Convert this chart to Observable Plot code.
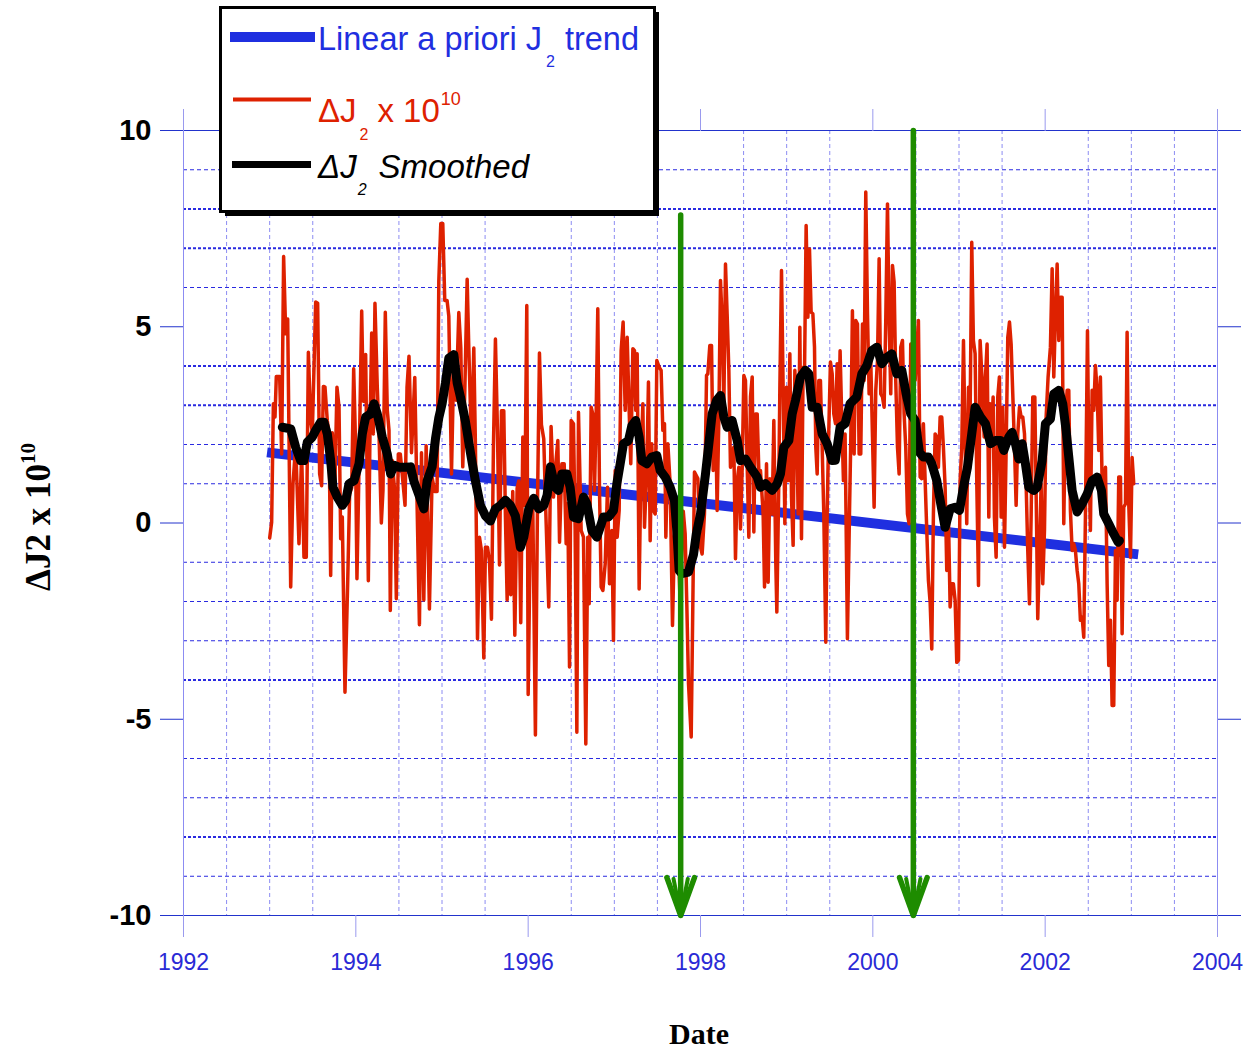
<!DOCTYPE html>
<html>
<head>
<meta charset="utf-8">
<script src="https://cdn.jsdelivr.net/npm/d3@7"></script>
<script src="https://cdn.jsdelivr.net/npm/@observablehq/plot@0.6"></script>
<style>
  body { margin: 0; background: #fff; }
  #wrap { position: relative; width: 1247px; height: 1050px; }
  #chart svg { display: block; }
  #legend { position: absolute; left: 0; top: 0; }
</style>
</head>
<body>
<div id="wrap">
  <div id="chart"></div>
  <svg id="legend" width="700" height="230" font-family="'Liberation Sans', Arial, sans-serif">
    <rect x="225" y="12" width="434" height="204" fill="#000"></rect>
    <rect x="220.5" y="7.5" width="434" height="204" fill="#fff" stroke="#000" stroke-width="3"></rect>
    <line x1="230" x2="315" y1="37" y2="37" stroke="#1f2fe0" stroke-width="10"></line>
    <line x1="233" x2="311" y1="99.5" y2="99.5" stroke="#de2100" stroke-width="4"></line>
    <line x1="232" x2="311" y1="164.5" y2="164.5" stroke="#000" stroke-width="7"></line>
    <text x="318" y="50" font-size="32.5" fill="#1f2fe0">Linear a priori J<tspan font-size="16" dx="4" dy="17">2</tspan><tspan dx="10" dy="-17">trend</tspan></text>
    <text x="318" y="122" font-size="33" fill="#de2100">ΔJ<tspan font-size="16" dx="3" dy="18">2</tspan><tspan dx="9" dy="-18">x 10</tspan><tspan font-size="18" dx="1" dy="-17">10</tspan></text>
    <text x="318" y="178" font-size="33" font-style="italic" fill="#000">ΔJ<tspan font-size="16" dx="1" dy="17">2</tspan><tspan dx="12" dy="-17">Smoothed</tspan></text>
  </svg>
</div>
<script>
// ---------- data ----------
const xDomain = [1992, 2004];
const yDomain = [-10, 10];
const xTicks = [1992, 1994, 1996, 1998, 2000, 2002, 2004];
const yTicks = [-10, -5, 0, 5, 10];
const thinGridY = [9, 6, 2, 1, -1, -2, -3, -6, -7, -9];
const boldGridY = [8, 7, 4, 3, -4, -8];
const halfYearGrid = [1992.5, 1993, 1993.5, 1994.5, 1995, 1995.5, 1996.5, 1997, 1997.5,
  1998.5, 1999, 1999.5, 2000.5, 2001, 2001.5, 2002.5, 2003, 2003.5];

// Linear a priori J2 trend (start, end)
const trend = [[1992.97, 1.80], [2003.08, -0.80]];

// Green event arrows: date, top value
const eventDates = [1997.77, 2000.47];
const eventTops = [7.85, 10];

// ΔJ2 x 10^10 (date, value)
const deltaJ2 = [
[1993.000,-0.38],[1993.023,0.02],[1993.043,3.04],[1993.062,2.70],[1993.077,3.73],[1993.116,3.73],[1993.139,1.76],
[1993.162,6.79],[1993.186,4.82],[1993.209,5.20],[1993.244,-1.63],[1993.271,1.00],[1993.302,2.00],[1993.340,-0.53],
[1993.371,1.80],[1993.398,-0.87],[1993.425,-0.87],[1993.449,4.35],[1993.476,2.60],[1993.495,2.30],[1993.534,5.63],
[1993.557,5.60],[1993.580,1.25],[1993.603,0.95],[1993.623,3.48],[1993.642,3.46],[1993.669,2.60],[1993.689,2.30],
[1993.708,-1.34],[1993.727,2.30],[1993.758,1.08],[1993.781,3.46],[1993.805,2.95],[1993.824,-0.40],[1993.843,0.15],
[1993.874,-4.31],[1993.905,-1.55],[1993.928,0.74],[1993.952,0.90],[1993.975,3.93],[1993.994,2.27],[1994.013,-1.42],
[1994.037,1.42],[1994.068,5.40],[1994.087,3.10],[1994.114,4.29],[1994.145,-1.47],[1994.164,2.27],[1994.184,4.84],
[1994.203,2.27],[1994.222,5.60],[1994.249,3.46],[1994.269,2.27],[1994.296,0.00],[1994.315,0.83],[1994.342,5.37],
[1994.365,2.87],[1994.385,2.36],[1994.400,-2.23],[1994.423,1.59],[1994.450,0.83],[1994.470,-1.93],[1994.493,1.76],
[1994.516,1.76],[1994.540,1.20],[1994.571,0.45],[1994.594,3.46],[1994.617,4.25],[1994.646,1.79],[1994.684,3.71],
[1994.711,0.45],[1994.738,-2.59],[1994.762,1.79],[1994.789,-1.96],[1994.816,1.97],[1994.854,-2.19],[1994.885,1.16],
[1994.916,0.80],[1994.943,0.80],[1994.963,6.16],[1994.986,7.63],[1995.009,7.63],[1995.032,5.67],[1995.059,5.67],
[1995.079,5.27],[1995.110,1.25],[1995.137,4.11],[1995.164,3.13],[1995.195,5.36],[1995.218,4.46],[1995.241,1.43],
[1995.265,3.39],[1995.292,6.21],[1995.311,4.46],[1995.342,1.97],[1995.369,4.46],[1995.388,1.97],[1995.412,-2.95],
[1995.435,-0.36],[1995.458,-0.71],[1995.485,-3.44],[1995.504,-0.62],[1995.528,-0.62],[1995.551,-0.98],[1995.574,-2.45],
[1995.597,1.97],[1995.620,4.69],[1995.644,2.32],[1995.667,-1.07],[1995.690,2.86],[1995.717,2.86],[1995.736,0.18],
[1995.756,-1.96],[1995.775,0.54],[1995.798,-1.83],[1995.821,0.80],[1995.845,-2.86],[1995.872,0.89],[1995.891,1.07],
[1995.914,-2.54],[1995.938,2.19],[1995.961,0.45],[1995.984,5.54],[1996.000,-4.37],[1996.027,0.18],[1996.054,0.36],
[1996.084,-5.40],[1996.108,0.45],[1996.131,4.33],[1996.154,2.50],[1996.181,2.14],[1996.201,0.54],[1996.239,-2.14],
[1996.266,2.46],[1996.294,0.66],[1996.313,1.34],[1996.344,2.10],[1996.364,-0.49],[1996.391,1.51],[1996.418,1.51],
[1996.441,-0.53],[1996.460,0.49],[1996.480,-3.67],[1996.499,2.61],[1996.526,2.53],[1996.545,-0.19],[1996.565,-5.33],
[1996.584,2.82],[1996.615,-0.19],[1996.642,-0.36],[1996.669,-5.63],[1996.692,-0.36],[1996.708,-2.06],[1996.731,2.95],
[1996.750,2.78],[1996.770,0.83],[1996.789,2.78],[1996.808,5.46],[1996.828,0.83],[1996.847,-1.63],[1996.867,-1.72],
[1996.894,-1.04],[1996.921,0.91],[1996.944,-1.55],[1996.971,-0.19],[1996.990,-2.99],[1997.010,1.34],[1997.033,-0.36],
[1997.056,0.32],[1997.079,4.39],[1997.102,5.12],[1997.126,2.87],[1997.149,4.73],[1997.172,2.87],[1997.191,1.51],
[1997.215,4.44],[1997.234,4.39],[1997.249,2.87],[1997.265,4.31],[1997.288,-1.68],[1997.311,1.68],[1997.331,3.04],
[1997.350,-0.11],[1997.377,1.42],[1997.396,3.59],[1997.416,-0.45],[1997.435,2.02],[1997.454,0.32],[1997.474,0.23],
[1997.493,4.14],[1997.520,3.97],[1997.543,3.89],[1997.563,2.36],[1997.582,2.53],[1997.598,-0.36],[1997.621,2.02],
[1997.648,1.00],[1997.675,-2.61],[1997.698,-0.36],[1997.725,0.49],[1997.764,-2.06],[1997.800,0.30],[1997.822,-0.28],
[1997.841,-2.06],[1997.861,-4.10],[1997.892,-5.45],[1997.911,-2.06],[1997.930,1.30],[1997.969,1.13],[1998.000,-0.62],
[1998.019,-0.79],[1998.046,0.23],[1998.070,3.76],[1998.085,3.80],[1998.108,4.52],[1998.128,4.52],[1998.147,1.34],
[1998.174,2.95],[1998.193,0.32],[1998.213,2.70],[1998.232,6.18],[1998.251,5.16],[1998.271,2.95],[1998.290,6.60],
[1998.309,5.33],[1998.329,3.89],[1998.348,1.42],[1998.367,1.76],[1998.387,1.93],[1998.406,-0.91],[1998.426,1.08],
[1998.445,1.42],[1998.464,-0.15],[1998.484,1.42],[1998.503,3.76],[1998.522,3.63],[1998.542,1.42],[1998.561,-0.36],
[1998.580,3.21],[1998.600,3.72],[1998.619,-0.23],[1998.638,2.78],[1998.658,2.78],[1998.677,1.34],[1998.696,1.34],
[1998.727,0.23],[1998.743,-1.63],[1998.766,1.51],[1998.785,-1.51],[1998.805,1.13],[1998.832,0.23],[1998.851,2.61],
[1998.874,-1.04],[1998.886,-2.27],[1998.909,1.08],[1998.921,3.46],[1998.940,6.43],[1998.959,3.46],[1998.979,-0.02],
[1998.998,3.46],[1999.017,1.08],[1999.037,4.31],[1999.056,0.66],[1999.075,-0.57],[1999.095,3.89],[1999.114,2.87],
[1999.133,0.23],[1999.153,4.99],[1999.172,-0.40],[1999.191,3.97],[1999.207,3.80],[1999.226,7.58],[1999.246,5.24],
[1999.265,6.98],[1999.284,5.37],[1999.304,5.33],[1999.323,4.48],[1999.338,1.93],[1999.354,1.25],[1999.373,3.63],
[1999.392,3.63],[1999.412,1.93],[1999.431,0.23],[1999.454,-3.04],[1999.470,0.23],[1999.485,2.02],[1999.508,4.10],
[1999.528,3.80],[1999.547,2.78],[1999.567,2.53],[1999.586,4.06],[1999.601,2.19],[1999.620,4.39],[1999.640,2.61],
[1999.659,1.08],[1999.678,2.27],[1999.705,-2.95],[1999.729,0.23],[1999.744,2.10],[1999.763,5.41],[1999.783,1.76],
[1999.802,5.16],[1999.822,5.07],[1999.841,1.76],[1999.860,1.76],[1999.880,5.07],[1999.899,3.63],[1999.918,8.43],
[1999.938,5.33],[1999.957,3.29],[1999.976,4.14],[1999.996,2.19],[2000.015,0.40],[2000.034,3.38],[2000.054,4.14],
[2000.073,6.73],[2000.092,3.29],[2000.112,3.21],[2000.131,2.95],[2000.150,5.16],[2000.170,8.13],[2000.189,5.16],
[2000.208,3.29],[2000.228,6.56],[2000.247,6.14],[2000.266,3.63],[2000.286,1.93],[2000.305,1.25],[2000.324,4.48],
[2000.344,4.65],[2000.363,2.78],[2000.382,1.93],[2000.402,0.23],[2000.421,-0.02],[2000.440,4.56],[2000.464,3.97],
[2000.491,3.63],[2000.529,5.16],[2000.549,1.17],[2000.568,1.13],[2000.587,2.53],[2000.607,1.08],[2000.626,-0.19],
[2000.645,-1.46],[2000.665,-2.02],[2000.684,-3.21],[2000.703,0.23],[2000.723,2.27],[2000.742,2.19],[2000.761,1.42],
[2000.781,2.70],[2000.800,2.70],[2000.819,1.93],[2000.839,0.91],[2000.858,-1.21],[2000.877,0.23],[2000.897,-2.14],
[2000.916,-1.55],[2000.935,-1.55],[2000.955,-1.97],[2000.974,-3.55],[2000.994,-3.50],[2001.013,1.08],[2001.032,1.93],
[2001.052,4.65],[2001.071,2.02],[2001.090,-0.02],[2001.110,3.46],[2001.129,2.78],[2001.148,7.15],[2001.167,4.65],
[2001.187,4.31],[2001.206,1.08],[2001.226,-1.59],[2001.245,4.65],[2001.276,3.29],[2001.292,2.19],[2001.307,3.72],
[2001.326,4.56],[2001.346,0.15],[2001.361,3.04],[2001.377,2.19],[2001.396,3.21],[2001.411,0.15],[2001.431,-0.87],
[2001.450,3.21],[2001.469,3.72],[2001.489,0.15],[2001.508,2.95],[2001.528,-0.62],[2001.547,1.85],[2001.566,4.73],
[2001.586,5.12],[2001.605,4.56],[2001.624,3.29],[2001.644,1.93],[2001.663,0.45],[2001.682,2.27],[2001.702,2.95],
[2001.721,2.70],[2001.740,2.70],[2001.760,2.27],[2001.779,1.00],[2001.798,-0.70],[2001.818,-2.06],[2001.837,0.15],
[2001.856,3.21],[2001.880,3.21],[2001.899,0.15],[2001.914,-2.44],[2001.934,-0.70],[2001.953,1.00],[2001.972,-1.55],
[2001.992,-0.19],[2002.011,2.70],[2002.034,3.72],[2002.061,4.48],[2002.081,6.48],[2002.100,3.72],[2002.119,5.24],
[2002.139,6.60],[2002.158,4.65],[2002.177,5.75],[2002.197,5.75],[2002.216,-0.02],[2002.235,2.70],[2002.255,3.38],
[2002.274,3.38],[2002.293,0.32],[2002.313,-0.70],[2002.332,-0.53],[2002.351,-0.70],[2002.371,-1.21],[2002.390,-1.55],
[2002.409,-2.48],[2002.429,-2.40],[2002.448,-2.91],[2002.467,0.15],[2002.491,4.90],[2002.506,1.85],[2002.525,-0.19],
[2002.545,3.38],[2002.564,2.87],[2002.583,4.01],[2002.603,3.38],[2002.622,1.85],[2002.641,3.72],[2002.661,1.00],
[2002.680,0.49],[2002.700,1.42],[2002.719,-1.55],[2002.738,-3.63],[2002.758,-2.48],[2002.777,-4.65],[2002.796,-4.65],
[2002.816,-0.70],[2002.835,-1.97],[2002.854,1.17],[2002.874,1.17],[2002.893,-2.82],[2002.912,0.40],[2002.932,0.49],
[2002.951,4.86],[2002.970,0.49],[2002.990,-0.87],[2003.009,1.67],[2003.028,1.00]
];

// ΔJ2 smoothed (date, value)
const smoothed = [
[1993.147,2.44],[1993.244,2.40],[1993.302,1.93],[1993.360,1.59],[1993.398,1.59],[1993.437,2.06],[1993.495,2.19],
[1993.534,2.36],[1993.592,2.57],[1993.630,2.57],[1993.669,2.27],[1993.708,1.59],[1993.735,0.91],[1993.785,0.66],
[1993.843,0.45],[1993.882,0.57],[1993.921,1.00],[1993.979,1.08],[1994.037,1.51],[1994.075,2.27],[1994.114,2.70],
[1994.172,2.78],[1994.211,3.04],[1994.249,2.78],[1994.307,2.19],[1994.365,1.76],[1994.404,1.25],[1994.443,1.47],
[1994.501,1.42],[1994.559,1.42],[1994.634,1.43],[1994.673,1.07],[1994.731,0.72],[1994.789,0.36],[1994.827,1.07],
[1994.885,1.43],[1994.924,2.14],[1994.963,2.68],[1995.001,3.04],[1995.040,3.57],[1995.079,4.20],[1995.137,4.29],
[1995.176,3.57],[1995.214,3.21],[1995.272,2.59],[1995.330,1.79],[1995.388,1.07],[1995.446,0.45],[1995.504,0.18],
[1995.562,0.05],[1995.620,0.36],[1995.678,0.45],[1995.736,0.58],[1995.794,0.45],[1995.852,0.18],[1995.910,-0.62],
[1995.949,-0.36],[1996.007,0.36],[1996.065,0.63],[1996.123,0.36],[1996.181,0.45],[1996.220,0.71],[1996.259,1.43],
[1996.313,0.91],[1996.352,0.83],[1996.391,1.25],[1996.449,1.25],[1996.487,0.91],[1996.526,0.15],[1996.584,0.11],
[1996.642,0.66],[1996.681,0.49],[1996.739,-0.19],[1996.797,-0.36],[1996.836,-0.11],[1996.874,0.15],[1996.932,0.15],
[1996.990,0.32],[1997.029,1.00],[1997.068,1.51],[1997.106,2.02],[1997.164,2.10],[1997.203,2.48],[1997.249,2.61],
[1997.288,2.19],[1997.319,1.59],[1997.377,1.51],[1997.435,1.68],[1997.493,1.72],[1997.532,1.34],[1997.590,1.17],
[1997.648,0.91],[1997.698,0.57],[1997.725,-0.19],[1997.752,-1.21],[1997.783,-1.29],[1997.861,-1.25],[1997.919,-0.80],
[1997.950,-0.30],[1998.000,0.23],[1998.058,1.25],[1998.097,2.02],[1998.135,2.78],[1998.186,3.12],[1998.232,3.25],
[1998.271,2.70],[1998.309,2.44],[1998.367,2.61],[1998.426,2.10],[1998.464,1.59],[1998.522,1.63],[1998.580,1.42],
[1998.658,1.17],[1998.696,0.91],[1998.754,1.00],[1998.832,0.83],[1998.890,1.00],[1998.928,1.25],[1998.967,1.93],
[1999.025,2.10],[1999.064,2.78],[1999.102,3.12],[1999.160,3.72],[1999.218,3.89],[1999.257,3.80],[1999.296,2.95],
[1999.354,2.95],[1999.412,2.27],[1999.470,2.02],[1999.528,1.59],[1999.565,1.60],[1999.620,2.44],[1999.678,2.53],
[1999.736,3.04],[1999.814,3.21],[1999.872,3.80],[1999.930,4.01],[1999.988,4.39],[2000.046,4.48],[2000.104,4.06],
[2000.162,4.22],[2000.220,4.31],[2000.278,3.80],[2000.336,3.89],[2000.394,3.21],[2000.440,2.78],[2000.491,2.61],
[2000.541,1.80],[2000.587,1.68],[2000.645,1.68],[2000.684,1.51],[2000.742,1.08],[2000.788,0.49],[2000.839,-0.11],
[2000.897,0.36],[2000.955,0.40],[2001.005,0.32],[2001.052,0.91],[2001.098,1.42],[2001.148,2.27],[2001.187,2.95],
[2001.249,2.70],[2001.307,2.53],[2001.365,2.02],[2001.423,2.10],[2001.481,2.10],[2001.520,1.85],[2001.578,2.19],
[2001.616,2.31],[2001.655,2.02],[2001.694,1.63],[2001.733,2.02],[2001.771,1.51],[2001.810,0.91],[2001.868,0.83],
[2001.907,0.91],[2001.965,1.59],[2002.003,2.53],[2002.061,2.65],[2002.100,3.29],[2002.158,3.38],[2002.204,3.04],
[2002.243,2.36],[2002.274,1.68],[2002.313,0.83],[2002.371,0.28],[2002.429,0.49],[2002.487,0.74],[2002.545,1.08],
[2002.603,1.17],[2002.653,0.83],[2002.680,0.23],[2002.738,-0.02],[2002.796,-0.28],[2002.847,-0.49],[2002.862,-0.45]
];

// ---------- build ----------
const toObj = ([date, value]) => ({date, value});
const redData = deltaJ2.map(toObj);
const blackData = smoothed.map(toObj);
const trendData = trend.map(toObj);
const events = eventDates.map((date, i) => ({date, top: eventTops[i], bottom: yDomain[0]}));

const sans = "'Liberation Sans', Arial, Helvetica, sans-serif";
const gridBlue = "#2a2ae0";
const lightBlue = "#8c8cf2";
const green = "#1e8c00";

const chart = Plot.plot({
  width: 1247,
  height: 1050,
  marginLeft: 183,
  marginRight: 30,
  marginTop: 130,
  marginBottom: 135,
  x: {domain: xDomain},
  y: {domain: yDomain},
  style: {background: "transparent", fontFamily: sans, overflow: "visible"},
  marks: [
    Plot.ruleX(halfYearGrid, {stroke: lightBlue, strokeWidth: 1, strokeDasharray: "4,3"}),
    Plot.ruleY(thinGridY, {stroke: gridBlue, strokeWidth: 1, strokeDasharray: "4,3"}),
    Plot.ruleY(boldGridY, {stroke: gridBlue, strokeWidth: 2, strokeDasharray: "3,2"}),
    Plot.ruleX(xDomain, {stroke: lightBlue, strokeWidth: 1}),
    Plot.ruleY(yDomain, {stroke: "#2233cc", strokeWidth: 1}),
    Plot.axisY({anchor: "left", ticks: yTicks, tickSize: 23, tickPadding: 9, stroke: "#2233cc",
      fill: "#000", fontWeight: "bold", fontSize: 29, fontFamily: "'Liberation Sans Narrow', 'Liberation Sans', Arial, sans-serif", label: null,
      tickFormat: d => String(d)}),
    Plot.axisY({anchor: "right", ticks: yTicks, tickSize: 23, stroke: "#2233cc", label: null, tickFormat: () => ""}),
    Plot.axisX({anchor: "bottom", ticks: xTicks, tickSize: 22, tickPadding: 16, stroke: "#9a9aee",
      fill: "#2a2ad6", fontSize: 23, label: null, tickFormat: d => String(d)}),
    Plot.axisX({anchor: "top", ticks: xTicks, tickSize: 22, stroke: "#9a9aee", label: null, tickFormat: () => ""}),
    Plot.line(trendData, {x: "date", y: "value", stroke: "#1f2fe0", strokeWidth: 10, strokeLinecap: "butt"}),
    Plot.line(redData, {x: "date", y: "value", stroke: "#de2100", strokeWidth: 3.5, strokeLinejoin: "round"}),
    Plot.line(blackData, {x: "date", y: "value", stroke: "#000", strokeWidth: 9, strokeLinejoin: "round"}),
    Plot.arrow(events, {x: "date", y1: "top", y2: "bottom", stroke: green, strokeWidth: 5.5,
      headLength: 11, headAngle: 40}),
    Plot.arrow(events, {x: "date", y1: "top", y2: "bottom", stroke: green, strokeWidth: 4,
      headLength: 14, headAngle: 22})
  ]
});
document.getElementById("chart").appendChild(chart);

// Axis titles
const svg = d3.select(chart);
const yTitle = svg.append("text")
  .attr("transform", "translate(50,517) rotate(-90)")
  .attr("text-anchor", "middle")
  .attr("font-family", "'Liberation Serif', 'Times New Roman', serif")
  .attr("font-weight", "bold")
  .attr("font-size", 35)
  .attr("fill", "#000");
yTitle.append("tspan").text("ΔJ2 x 10");
yTitle.append("tspan").attr("font-size", 21).attr("dy", -15).text("10");

svg.append("text")
  .attr("x", 699).attr("y", 1044)
  .attr("text-anchor", "middle")
  .attr("font-family", "'Liberation Serif', 'Times New Roman', serif")
  .attr("font-weight", "bold")
  .attr("font-size", 30)
  .attr("fill", "#000")
  .text("Date");
</script>
</body>
</html>
